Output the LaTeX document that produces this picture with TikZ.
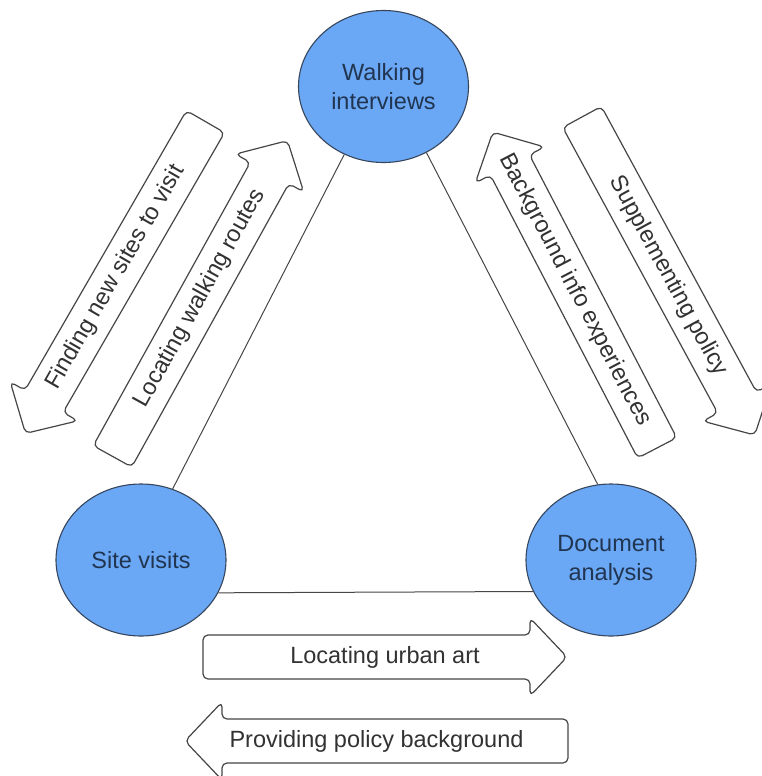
\documentclass[tikz,border=0pt]{standalone}
\usepackage{fontspec}
\setmainfont{Liberation Sans}
\usetikzlibrary{shapes.geometric}

\definecolor{nodefill}{RGB}{106,168,245}
\definecolor{nodeline}{RGB}{55,70,92}
\definecolor{nodetext}{RGB}{33,52,80}
\definecolor{boxline}{RGB}{70,70,70}
\definecolor{boxtext}{RGB}{50,50,50}
\definecolor{linkline}{RGB}{70,70,70}

\tikzset{
  method/.style={ellipse, draw=nodeline, line width=1.1pt, fill=nodefill,
    minimum width=170pt, minimum height=152pt, inner sep=0pt,
    text=nodetext, font=\fontsize{23.5}{29}\selectfont, align=center},
  link/.style={draw=linkline, line width=1pt},
  arrowbox/.style={draw=boxline, fill=white, line width=1.2pt,
    rounded corners=5pt, line join=round},
  arrowtext/.style={text=boxtext, font=\fontsize{23.5}{28}\selectfont, inner sep=0pt},
  % block arrow centred on its position: #1 length, #2 label, #3 extra label turn
  pics/flowarrow/.style n args={3}{code={
    \path[arrowbox] ({-#1/2},-22) -- ({#1/2-37},-22) -- ({#1/2-37},-39)
      -- ({#1/2},0) -- ({#1/2-37},39) -- ({#1/2-37},22) -- ({-#1/2},22) -- cycle;
    \node[arrowtext, transform shape, rotate=#3] (-label) at (0,0) {#2};
  }}
}

\begin{document}
\begin{tikzpicture}[x=1pt, y=-1pt]
  \useasboundingbox (0,0) rectangle (762,776);
  \fill[white] (0,0) rectangle (762,776);

  % methods
  \node[method] (w) at (383.5,86.5) {Walking\\interviews};
  \node[method] (s) at (141,560) {Site visits};
  \node[method] (d) at (611,560) {Document\\analysis};

  % links between methods
  \draw[link] (w.240) -- (s.66);
  \draw[link] (w.-57) -- (d.100);
  \draw[link] (s.-23) -- (d.202);

  % exchanges between walking interviews and site visits
  \pic (find) [rotate=240] at (115.5,277.5) {flowarrow={360}{Finding new sites to visit}{180}};
  \pic (route) [rotate=61] at (200,298.5) {flowarrow={361}{Locating walking routes}{0}};

  % exchanges between walking interviews and document analysis
  \pic (info) [rotate=117.5] at (575,290) {flowarrow={356}{Background info experiences}{180}};
  \pic (supp) [rotate=-61.5] at (668.4,276) {flowarrow={362}{Supplementing policy}{0}};

  % exchanges between site visits and document analysis
  \pic (art) at (385,657) {flowarrow={364}{Locating urban art}{0}};
  \pic (policy) [rotate=180] at (376.5,741) {flowarrow={383}{Providing policy background}{180}};
\end{tikzpicture}
\end{document}
